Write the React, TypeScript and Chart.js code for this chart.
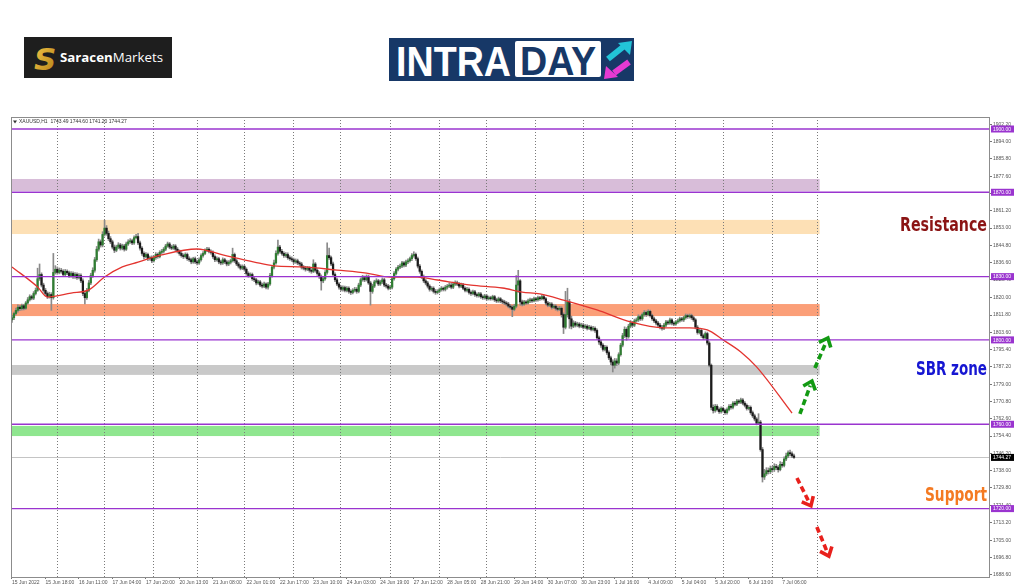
import React, { useEffect, useRef } from "react";
import { Chart, registerables } from "chart.js";
Chart.register(...registerables);

// ---------- data ----------
const firstOpen = 1809.5;
const closes = [
  1810.5,1812.5,1814.0,1815.5,1814.8,1816.2,1815.0,1817.5,1819.0,1820.5,1819.8,1822.0,1823.5,1829.0,1831.0,1826.0,1823.5,1822.0,1820.5,1821.5,
  1820.0,1832.0,1833.5,1832.0,1833.0,1832.5,1831.0,1832.5,1831.8,1830.5,1831.5,1830.0,1831.0,1829.5,1830.5,1828.0,1822.0,1820.0,1823.5,1827.0,
  1830.5,1833.0,1838.0,1843.0,1846.5,1845.0,1850.0,1853.0,1850.5,1848.0,1846.5,1844.0,1842.5,1844.0,1845.0,1843.5,1844.5,1843.0,1845.5,1846.5,
  1847.0,1846.0,1848.5,1849.0,1846.0,1843.5,1841.0,1839.5,1840.5,1838.5,1839.0,1837.5,1839.0,1840.5,1839.5,1841.5,1842.0,1843.0,1844.5,1845.5,
  1844.0,1843.5,1844.5,1843.0,1842.0,1841.0,1840.0,1839.5,1840.5,1838.5,1838.0,1837.0,1838.5,1837.0,1836.5,1838.0,1840.0,1841.0,1842.5,1843.0,
  1842.0,1841.5,1839.5,1838.0,1838.5,1837.0,1836.5,1838.0,1837.0,1836.0,1836.8,1837.5,1840.5,1837.5,1836.0,1835.0,1834.0,1834.8,1833.5,1831.5,
  1830.5,1831.0,1829.0,1828.5,1827.0,1827.5,1826.0,1825.5,1826.5,1825.0,1826.5,1830.5,1834.5,1836.5,1841.0,1844.0,1842.0,1841.0,1840.0,1840.5,
  1839.0,1838.5,1838.0,1837.0,1837.5,1836.5,1836.0,1834.5,1834.0,1833.5,1834.0,1833.0,1832.5,1836.0,1833.0,1831.5,1830.0,1828.0,1829.0,1832.0,
  1840.0,1839.0,1836.0,1831.0,1828.5,1826.5,1825.0,1824.0,1824.8,1823.5,1824.5,1823.0,1822.5,1823.5,1824.0,1823.0,1826.0,1828.5,1829.5,1828.5,
  1830.0,1827.0,1823.0,1825.5,1827.5,1828.0,1826.5,1827.5,1828.5,1826.0,1825.5,1824.5,1825.0,1829.0,1831.5,1833.5,1834.5,1835.0,1836.5,1835.5,
  1837.0,1837.5,1838.5,1840.0,1840.5,1838.5,1835.0,1832.5,1830.0,1828.0,1827.0,1825.5,1824.0,1824.5,1823.0,1822.5,1823.0,1823.8,1824.5,1824.0,
  1825.0,1825.5,1826.0,1825.0,1826.5,1827.0,1826.5,1825.5,1826.0,1824.5,1823.5,1824.0,1822.5,1822.0,1822.8,1821.5,1821.0,1821.8,1820.5,1820.0,
  1820.8,1819.5,1820.0,1819.5,1820.5,1819.0,1818.5,1819.5,1818.5,1818.0,1817.5,1817.0,1816.0,1815.5,1814.5,1816.0,1826.0,1828.0,1818.0,1817.0,
  1818.0,1817.5,1818.5,1819.0,1818.5,1819.5,1819.0,1820.0,1819.5,1820.5,1819.5,1817.5,1816.5,1817.0,1815.5,1816.0,1815.0,1814.5,1815.0,1812.0,
  1806.0,1812.0,1818.0,1810.0,1806.5,1808.0,1807.0,1807.5,1806.5,1807.0,1806.0,1806.5,1805.5,1806.0,1805.0,1805.5,1804.5,1801.0,1799.0,1797.5,
  1795.5,1796.5,1794.0,1791.5,1789.5,1788.0,1790.0,1789.0,1793.0,1797.5,1802.0,1805.0,1801.5,1806.5,1808.0,1807.0,1809.0,1809.5,1811.0,1810.0,
  1812.0,1813.0,1812.0,1813.5,1811.5,1810.0,1809.0,1808.0,1807.0,1806.0,1805.5,1807.0,1808.5,1808.0,1809.5,1808.0,1807.5,1808.5,1809.0,1810.0,
  1809.5,1810.5,1811.5,1811.0,1811.5,1810.5,1809.5,1806.0,1803.5,1804.5,1802.0,1801.0,1803.0,1798.5,1788.0,1768.0,1766.5,1768.5,1767.0,1766.0,
  1767.5,1766.5,1765.5,1767.0,1768.5,1768.0,1770.0,1769.5,1771.0,1770.5,1771.5,1770.0,1769.0,1767.5,1768.0,1765.5,1764.0,1762.5,1760.5,1761.0,
  1748.0,1735.0,1736.5,1738.0,1737.5,1739.0,1738.5,1740.0,1739.5,1738.5,1741.0,1740.5,1743.5,1745.0,1746.5,1746.0,1745.0,1744.27,
];
const highs = [
  1811.6,1813.2,1815.1,1816.6,1816.3,1817.0,1816.9,1818.2,1820.1,1821.4,1821.2,1822.9,1824.6,1834.0,1836.0,1831.8,1826.9,1824.4,1822.8,1822.6,
  1822.4,1841.0,1835.2,1834.6,1834.1,1833.9,1833.3,1833.4,1833.2,1832.6,1832.4,1832.3,1831.9,1831.8,1831.4,1831.3,1828.9,1823.1,1824.4,1828.2,
  1831.6,1834.2,1839.1,1844.3,1847.8,1847.4,1851.3,1856.7,1854.2,1851.6,1849.0,1847.3,1845.0,1844.9,1846.1,1845.8,1845.4,1845.3,1846.4,1847.5,
  1848.0,1847.8,1849.3,1850.1,1850.5,1846.9,1844.2,1841.8,1841.4,1841.2,1839.8,1839.9,1839.9,1841.4,1841.2,1842.3,1842.9,1843.8,1845.3,1846.4,
  1846.2,1844.9,1845.3,1845.2,1843.8,1842.7,1841.9,1840.8,1841.3,1841.2,1839.4,1838.8,1839.2,1839.3,1837.9,1838.9,1840.8,1841.9,1843.2,1843.9,
  1843.8,1842.7,1842.2,1840.3,1839.4,1839.2,1837.8,1838.9,1838.7,1837.8,1837.6,1838.3,1843.5,1841.2,1838.3,1836.8,1835.7,1835.6,1835.4,1834.2,
  1832.3,1831.8,1831.7,1829.8,1829.2,1828.3,1828.2,1826.9,1827.4,1827.1,1827.3,1831.6,1835.4,1837.8,1842.2,1847.3,1844.8,1842.9,1841.8,1841.4,
  1841.3,1839.9,1839.4,1838.8,1838.4,1838.3,1837.2,1836.8,1835.3,1834.9,1834.8,1834.7,1833.8,1838.0,1836.7,1833.8,1832.3,1830.8,1829.9,1832.9,
  1846.0,1843.5,1839.8,1836.9,1831.8,1829.3,1827.2,1825.8,1825.6,1825.5,1825.3,1825.2,1823.8,1824.3,1824.9,1824.8,1826.9,1829.4,1830.6,1830.3,
  1830.8,1830.7,1827.8,1826.4,1828.3,1829.0,1828.7,1828.3,1829.4,1829.2,1826.8,1826.3,1825.9,1829.9,1832.4,1834.3,1835.4,1835.9,1837.2,1837.1,
  1837.8,1838.4,1839.3,1840.9,1841.8,1841.2,1839.3,1835.8,1833.2,1830.8,1828.7,1827.8,1826.2,1825.3,1825.2,1823.9,1823.8,1824.6,1825.3,1825.1,
  1825.8,1826.3,1827.1,1826.8,1827.4,1828.0,1827.9,1827.2,1826.9,1826.8,1825.2,1824.9,1824.7,1823.3,1823.6,1823.5,1822.3,1822.6,1822.5,1821.3,
  1821.6,1821.5,1820.8,1820.7,1821.2,1821.1,1819.8,1820.3,1820.1,1819.2,1818.8,1818.2,1817.8,1816.8,1816.3,1816.9,1830.5,1833.0,1828.6,1818.9,
  1818.8,1818.7,1819.3,1819.8,1819.7,1820.3,1820.2,1820.8,1820.6,1821.3,1821.2,1820.1,1818.3,1817.8,1817.7,1816.9,1816.7,1815.8,1815.9,1815.7,
  1812.8,1823.0,1824.5,1819.2,1811.3,1809.1,1808.8,1808.4,1808.2,1807.9,1807.8,1807.3,1807.2,1806.9,1806.7,1806.4,1806.2,1805.2,1801.8,1799.8,
  1798.3,1797.4,1797.2,1794.8,1792.3,1790.6,1791.2,1791.1,1793.9,1798.4,1803.1,1806.2,1805.8,1807.4,1809.2,1808.8,1809.9,1810.4,1811.9,1811.7,
  1812.8,1813.9,1813.7,1814.3,1814.1,1812.2,1810.8,1809.7,1808.8,1807.8,1806.9,1807.8,1809.3,1809.2,1810.3,1810.1,1808.7,1809.2,1809.9,1810.8,
  1810.7,1811.2,1812.3,1812.2,1812.3,1812.2,1811.3,1810.1,1806.8,1805.4,1805.2,1802.8,1803.8,1803.7,1799.2,1788.6,1769.2,1769.4,1769.3,1767.8,
  1768.3,1768.2,1767.2,1767.8,1769.3,1769.4,1770.8,1770.9,1771.8,1771.7,1772.4,1772.2,1770.8,1769.7,1768.9,1768.7,1766.3,1764.8,1763.2,1765.0,
  1761.8,1749.0,1738.6,1739.4,1739.3,1740.2,1740.1,1741.3,1741.0,1740.4,1742.3,1742.0,1744.6,1746.3,1747.4,1747.8,1746.9,1745.9,
];
const lows = [
  1808.3,1809.6,1811.8,1813.2,1813.9,1814.1,1814.2,1814.5,1816.9,1818.4,1819.0,1819.1,1821.3,1823.0,1828.2,1825.1,1822.6,1821.2,1819.6,1819.8,
  1814.0,1819.3,1831.2,1831.1,1831.3,1831.6,1830.2,1830.3,1830.9,1829.6,1829.8,1829.1,1829.2,1828.7,1828.9,1827.1,1821.0,1817.0,1819.2,1822.8,
  1826.2,1829.6,1832.1,1837.2,1842.1,1844.0,1844.1,1849.2,1849.6,1847.1,1845.6,1843.1,1841.4,1841.8,1843.2,1842.6,1842.7,1842.1,1842.4,1844.8,
  1845.8,1845.2,1845.3,1847.9,1845.2,1842.6,1840.1,1838.4,1838.9,1837.6,1837.8,1836.6,1836.9,1838.2,1838.7,1838.9,1840.8,1841.2,1842.3,1843.9,
  1843.2,1842.8,1842.9,1842.3,1841.2,1840.1,1839.2,1838.6,1838.8,1837.7,1837.2,1836.1,1836.3,1836.2,1835.6,1835.8,1837.3,1839.2,1840.4,1841.8,
  1841.2,1840.7,1838.6,1837.1,1837.3,1836.1,1835.6,1835.8,1836.2,1835.1,1835.2,1836.0,1836.9,1836.7,1835.2,1834.1,1833.2,1833.3,1832.6,1830.6,
  1829.7,1829.8,1828.2,1827.6,1826.1,1826.3,1825.2,1824.6,1824.8,1824.2,1824.0,1825.8,1829.8,1833.6,1835.9,1840.2,1841.1,1840.2,1839.1,1839.2,
  1838.2,1837.7,1837.2,1836.1,1836.3,1835.7,1835.1,1833.6,1833.2,1832.6,1832.8,1832.1,1831.6,1831.9,1832.1,1830.6,1829.1,1823.6,1827.1,1828.3,
  1831.2,1838.1,1835.2,1830.1,1827.6,1825.7,1824.1,1823.2,1823.1,1822.7,1822.8,1822.1,1821.5,1821.8,1822.7,1822.1,1822.3,1825.2,1827.8,1827.6,
  1827.9,1826.3,1816.5,1822.1,1824.8,1826.9,1825.7,1825.8,1826.7,1825.2,1824.6,1823.7,1823.9,1824.2,1828.3,1830.8,1832.7,1833.8,1834.2,1834.6,
  1834.7,1836.2,1836.8,1837.6,1839.2,1837.7,1834.1,1831.6,1829.1,1827.2,1826.1,1824.6,1823.1,1823.2,1822.2,1821.6,1821.8,1822.3,1823.1,1823.2,
  1823.2,1824.1,1824.8,1824.2,1824.3,1825.8,1825.7,1824.7,1824.8,1823.8,1822.7,1822.8,1821.7,1821.1,1821.3,1820.6,1820.2,1820.3,1819.7,1819.2,
  1819.3,1818.7,1818.9,1818.8,1818.9,1818.2,1817.7,1817.8,1817.6,1817.2,1816.7,1816.1,1815.2,1814.6,1811.0,1813.8,1815.2,1822.5,1816.4,1816.1,
  1816.3,1816.8,1816.9,1817.7,1817.8,1818.0,1818.3,1818.4,1818.7,1818.9,1818.8,1816.6,1815.7,1815.8,1814.6,1814.9,1814.1,1813.7,1813.9,1810.8,
  1803.0,1805.2,1810.8,1805.5,1805.2,1805.8,1806.1,1806.2,1805.7,1805.8,1805.2,1805.3,1804.7,1804.8,1804.2,1804.3,1803.6,1800.2,1797.8,1796.4,
  1794.6,1794.8,1793.1,1790.6,1788.2,1784.8,1786.6,1787.8,1788.2,1792.3,1796.7,1801.1,1799.8,1800.8,1805.7,1806.2,1806.3,1808.4,1808.7,1809.2,
  1809.3,1811.2,1811.1,1811.4,1810.8,1809.2,1808.2,1807.1,1806.1,1805.2,1804.6,1804.9,1806.3,1807.2,1807.3,1807.1,1806.7,1806.9,1807.8,1808.4,
  1808.8,1808.7,1809.8,1810.2,1810.3,1809.7,1808.7,1805.2,1802.7,1802.8,1801.2,1800.1,1800.3,1797.6,1787.2,1766.8,1765.3,1765.7,1766.2,1765.1,
  1765.2,1765.7,1764.7,1764.8,1766.3,1767.2,1767.3,1768.7,1768.8,1769.7,1769.8,1769.2,1768.2,1766.7,1766.8,1764.7,1763.2,1761.6,1759.7,1759.8,
  1747.2,1732.6,1733.8,1735.7,1736.4,1736.6,1737.3,1737.6,1738.4,1737.3,1737.9,1739.6,1739.8,1742.7,1744.1,1745.0,1744.1,1743.8,
];

// moving average (bar index, price)
const maIdx = [0, 13, 18, 30, 39, 47, 56, 64, 76, 94, 107, 123, 133, 148, 165, 180, 192, 206, 216, 233, 249, 259, 268, 280, 297, 314, 331, 344, 353, 361, 370, 378, 396];
const maVals = [1834.6, 1825.1, 1820.3, 1822.2, 1823.7, 1829.8, 1834.6, 1836.9, 1840.3, 1843.1, 1840.3, 1836.9, 1835.1, 1834.6, 1833.1, 1831.7, 1829.8, 1829.8, 1828.4, 1826.0, 1824.6, 1822.7, 1821.8, 1818.9, 1814.2, 1808.5, 1805.7, 1805.7, 1804.7, 1800.0, 1794.3, 1787.2, 1765.3];

const timeLabels = ["15 Jun 2022","15 Jun 18:00","16 Jun 11:00","17 Jun 04:00","17 Jun 20:00","20 Jun 13:00","21 Jun 08:00","22 Jun 01:00","22 Jun 17:00","23 Jun 10:00","24 Jun 03:00","24 Jun 19:00","27 Jun 12:00","28 Jun 05:00","28 Jun 21:00","29 Jun 14:00","30 Jun 07:00","30 Jun 23:00","1 Jul 16:00","4 Jul 09:00","5 Jul 04:00","5 Jul 20:00","6 Jul 13:00","7 Jul 06:00"];
const timeLabelIdx = [0,17,34,51,68,85,102,119,136,153,170,187,204,221,238,255,272,289,306,323,340,357,374,391];
const daySeparators = [23, 47, 72, 94, 118, 143, 167, 192, 217, 241, 266, 290, 315, 337, 361, 386, 409];

const yTicks = [1902.2, 1894.0, 1885.8, 1877.6, 1869.4, 1861.2, 1853.0, 1844.8, 1836.6, 1828.4, 1820.0, 1811.8, 1803.6, 1795.4, 1787.2, 1779.0, 1770.8, 1762.6, 1754.4, 1746.2, 1738.0, 1729.8, 1721.4, 1713.2, 1705.0, 1696.8, 1688.6];

const levelLines = [1900, 1870, 1830, 1800, 1760, 1720];
const zoneTop = [1876.3, 1856.9, 1817.0, 1788.1, 1759.2];
const zoneBottom = [1870.6, 1850.2, 1811.3, 1783.4, 1754.4];
const zoneColors = ["#d8bdd9", "#fde0b5", "#fb9f78", "#c9c9c9", "#8fe68f"];
const zoneEndIdx = 410;

const lastPrice = 1744.27;
const headerText = "XAUUSD,H1  1743.49 1744.60 1741.20 1744.27";

const arrowFromIdx = [400.0, 407.6, 398.5, 408.6];
const arrowFromPrice = [1764.9, 1786.7, 1734.5, 1711.3];
const arrowToIdx = [406.1, 414.2, 405.6, 414.7];
const arrowToPrice = [1780.5, 1800.9, 1721.3, 1697.5];
const arrowColors = ["#139a13", "#139a13", "#e8201c", "#e8201c"];

const noteTexts = ["Resistance", "SBR zone", "Support"];
const notePrices = [1854.5, 1786.2, 1726.5];
const noteColors = ["#8b1414", "#1616d2", "#f47a22"];

// ---------- styles ----------
const BULL = "#2f7d32";
const BEAR = "#1b1b1b";
const WICK = "#8a8a8a";
const LEVEL = "#9a34cf";
const noteWidths = [87, 71, 62];

function drawArrow(ctx: CanvasRenderingContext2D, x1: number, y1: number, x2: number, y2: number, color: string) {
  const ang = Math.atan2(y2 - y1, x2 - x1);
  ctx.save();
  ctx.strokeStyle = color;
  ctx.lineWidth = 3.6;
  ctx.setLineDash([6, 3.5]);
  ctx.beginPath();
  ctx.moveTo(x1, y1);
  ctx.lineTo(x2 - Math.cos(ang) * 5, y2 - Math.sin(ang) * 5);
  ctx.stroke();
  ctx.setLineDash([]);
  const h = 10;
  ctx.lineJoin = "miter";
  ctx.beginPath();
  ctx.moveTo(x2 - h * Math.cos(ang - 0.7), y2 - h * Math.sin(ang - 0.7));
  ctx.lineTo(x2, y2);
  ctx.lineTo(x2 - h * Math.cos(ang + 0.7), y2 - h * Math.sin(ang + 0.7));
  ctx.stroke();
  ctx.restore();
}

const overlayPlugin = {
  id: "overlay",
  beforeDraw(chart: any) {
    const { ctx, width, height, chartArea: a, scales } = chart;
    const x = scales.x, y = scales.y;
    ctx.save();
    ctx.fillStyle = "#ffffff";
    ctx.fillRect(0, 0, width, height);
    ctx.beginPath();
    ctx.rect(a.left, a.top, a.right - a.left, a.bottom - a.top);
    ctx.clip();
    const xe = x.getPixelForValue(zoneEndIdx);
    zoneTop.forEach((t, k) => {
      const yt = y.getPixelForValue(t);
      const yb = y.getPixelForValue(zoneBottom[k]);
      ctx.fillStyle = zoneColors[k];
      ctx.fillRect(a.left, yt, xe - a.left, yb - yt);
    });
    const yp = Math.round(y.getPixelForValue(lastPrice)) + 0.5;
    ctx.strokeStyle = "#c4c4c4";
    ctx.lineWidth = 1;
    ctx.beginPath();
    ctx.moveTo(a.left, yp);
    ctx.lineTo(a.right, yp);
    ctx.stroke();
    ctx.restore();
  },
  afterDatasetsDraw(chart: any) {
    const { ctx, chartArea: a, scales } = chart;
    const x = scales.x, y = scales.y;
    ctx.save();
    ctx.strokeStyle = LEVEL;
    ctx.lineWidth = 1.4;
    levelLines.forEach((v) => {
      const yy = y.getPixelForValue(v);
      ctx.beginPath();
      ctx.moveTo(a.left, yy);
      ctx.lineTo(a.right, yy);
      ctx.stroke();
    });
    arrowFromIdx.forEach((fi, k) => {
      drawArrow(ctx, x.getPixelForValue(fi), y.getPixelForValue(arrowFromPrice[k]),
        x.getPixelForValue(arrowToIdx[k]), y.getPixelForValue(arrowToPrice[k]), arrowColors[k]);
    });
    ctx.textBaseline = "middle";
    ctx.textAlign = "left";
    noteTexts.forEach((t, k) => {
      ctx.font = 'bold 19px "DejaVu Sans", "Liberation Sans", Arial, sans-serif';
      const w = ctx.measureText(t).width;
      const sx = noteWidths[k] / w;
      const yy = y.getPixelForValue(notePrices[k]);
      ctx.save();
      ctx.translate(a.right - 3 - noteWidths[k], yy + 1);
      ctx.scale(sx, 1);
      ctx.fillStyle = noteColors[k];
      ctx.fillText(t, 0, 0);
      ctx.restore();
    });
    ctx.restore();
  },
  afterDraw(chart: any) {
    const { ctx, chartArea: a, scales } = chart;
    const y = scales.y;
    ctx.save();
    ctx.strokeStyle = "#8c8c8c";
    ctx.lineWidth = 1;
    ctx.strokeRect(Math.round(a.left) + 0.5, Math.round(a.top) + 0.5, Math.round(a.right - a.left) - 1, Math.round(a.bottom - a.top));
    ctx.font = '5px "Liberation Sans", Arial, sans-serif';
    ctx.textBaseline = "middle";
    levelLines.forEach((v) => {
      const yy = y.getPixelForValue(v);
      ctx.fillStyle = LEVEL;
      ctx.fillRect(a.right + 1, yy - 3.5, 23, 7);
      ctx.fillStyle = "#ffffff";
      ctx.fillText(v.toFixed(2), a.right + 3, yy + 0.3);
    });
    const yl = y.getPixelForValue(lastPrice);
    ctx.fillStyle = "#000000";
    ctx.fillRect(a.right + 1, yl - 3.5, 23, 7);
    ctx.fillStyle = "#ffffff";
    ctx.fillText(lastPrice.toFixed(2), a.right + 3, yl + 0.3);
    // header
    ctx.fillStyle = "#333333";
    ctx.beginPath();
    ctx.moveTo(a.left + 2, a.top + 3.5);
    ctx.lineTo(a.left + 6, a.top + 3.5);
    ctx.lineTo(a.left + 4, a.top + 6.5);
    ctx.closePath();
    ctx.fill();
    ctx.fillText(headerText, a.left + 8, a.top + 5);
    ctx.restore();
  },
};

function SaracenLogo() {
  return (
    <svg style={{ position: "absolute", left: 24, top: 37, zIndex: 2 }} width={148} height={41}>
      <defs>
        <linearGradient id="gold" x1="0" y1="0" x2="1" y2="1">
          <stop offset="0" stopColor="#f6c84a" />
          <stop offset="1" stopColor="#b07d14" />
        </linearGradient>
      </defs>
      <rect width={148} height={41} fill="#1e1e1e" />
      <text x={10} y={33} fontFamily="DejaVu Sans, sans-serif" fontWeight="bold" fontStyle="italic" fontSize={31} fill="url(#gold)">S</text>
      <text x={36} y={25} fontFamily="'Open Sans', Roboto, sans-serif" fontSize={13} fill="#ffffff" textLength={103} lengthAdjust="spacingAndGlyphs">
        <tspan fontWeight="bold">Saracen</tspan><tspan>Markets</tspan>
      </text>
    </svg>
  );
}

function IntradayLogo() {
  return (
    <svg style={{ position: "absolute", left: 389, top: 38, zIndex: 2 }} width={245} height={43}>
      <rect width={245} height={43} fill="#173867" />
      <text x={7} y={38} fontFamily="'Liberation Sans Narrow', 'Liberation Sans', Arial, sans-serif" fontWeight="bold" fontSize={43} fill="#ffffff" textLength={115} lengthAdjust="spacingAndGlyphs">INTRA</text>
      <rect x={126} y={3} width={86} height={36} rx={2} fill="#ffffff" />
      <text x={131} y={37} fontFamily="'Liberation Sans Narrow', 'Liberation Sans', Arial, sans-serif" fontWeight="bold" fontSize={41} fill="#173867" textLength={76} lengthAdjust="spacingAndGlyphs">DAY</text>
      <line x1={219} y1={21} x2={234} y2={9} stroke="#22c4d8" strokeWidth={6} />
      <polygon points="243,3 229,5 241,17" fill="#22c4d8" />
      <line x1={240} y1={24} x2={225} y2={35} stroke="#e63ad2" strokeWidth={6} />
      <polygon points="215,41 217,28 229,39" fill="#e63ad2" />
    </svg>
  );
}

export default function App() {
  const ref = useRef<HTMLCanvasElement>(null);
  useEffect(() => {
    const canvas = ref.current;
    if (!canvas) return;
    const opens = closes.map((c, i) => (i === 0 ? firstOpen : closes[i - 1]));
    const chart = new Chart(canvas, {
      type: "bar",
      data: {
        datasets: [
          {
            type: "line",
            label: "MA",
            data: maIdx.map((v, k) => ({ x: v, y: maVals[k] })),
            borderColor: "#e3342f",
            borderWidth: 1.3,
            pointRadius: 0,
            cubicInterpolationMode: "monotone",
            order: 0,
          } as any,
          {
            label: "body",
            data: closes.map((c, i) => ({ x: i, y: [opens[i], c] })),
            backgroundColor: closes.map((c, i) => (c >= opens[i] ? BULL : BEAR)),
            barThickness: 1.6,
            minBarLength: 1,
            grouped: false,
            order: 1,
          } as any,
          {
            label: "wick",
            data: closes.map((_, i) => ({ x: i, y: [lows[i], highs[i]] })),
            backgroundColor: WICK,
            barThickness: 1,
            grouped: false,
            order: 2,
          } as any,
        ],
      },
      options: {
        responsive: false,
        animation: false,
        devicePixelRatio: 1,
        layout: { padding: { left: 11, top: 117, right: 0, bottom: 0 } },
        plugins: { legend: { display: false }, tooltip: { enabled: false } },
        scales: {
          x: {
            type: "linear",
            position: "bottom",
            offset: false,
            min: -0.5,
            max: 496.5,
            afterBuildTicks: (s: any) => { s.ticks = timeLabelIdx.map((v) => ({ value: v })); },
            afterFit: (s: any) => { s.height = 10; },
            ticks: {
              autoSkip: false,
              maxRotation: 0,
              minRotation: 0,
              align: "start",
              padding: 1,
              font: { size: 5, family: "'Liberation Sans', Arial, sans-serif" },
              color: "#555555",
              callback: (_v: any, i: number) => timeLabels[i],
            },
            grid: { offset: false, drawOnChartArea: false, drawTicks: true, tickLength: 2, color: "#777777" },
            border: { display: false },
          },
          xd: {
            type: "linear",
            position: "top",
            offset: false,
            min: -0.5,
            max: 496.5,
            afterBuildTicks: (s: any) => { s.ticks = daySeparators.map((v) => ({ value: v })); },
            afterFit: (s: any) => { s.height = 0; },
            ticks: { display: false },
            grid: { offset: false, drawOnChartArea: true, drawTicks: false, color: "#7a7a7a", lineWidth: 1 },
            border: { display: false, dash: [1, 2] },
          },
          y: {
            type: "linear",
            position: "right",
            min: 1687.57,
            max: 1905.69,
            afterBuildTicks: (s: any) => { s.ticks = yTicks.map((v) => ({ value: v })); },
            afterFit: (s: any) => { s.width = 34; },
            ticks: {
              padding: 1,
              font: { size: 5, family: "'Liberation Sans', Arial, sans-serif" },
              color: "#555555",
              callback: (v: any) => Number(v).toFixed(2),
            },
            grid: { drawOnChartArea: false, tickLength: 2, color: "#777777" },
            border: { display: false },
          },
        } as any,
      },
      plugins: [overlayPlugin],
    } as any);
    return () => chart.destroy();
  }, []);

  return (
    <div style={{ position: "fixed", left: 0, top: 0, width: 1024, height: 587, background: "#ffffff", overflow: "hidden" }}>
      <canvas ref={ref} width={1024} height={587} style={{ position: "absolute", left: 0, top: 0, width: 1024, height: 587, display: "block", zIndex: 1 }} />
      <SaracenLogo />
      <IntradayLogo />
    </div>
  );
}
